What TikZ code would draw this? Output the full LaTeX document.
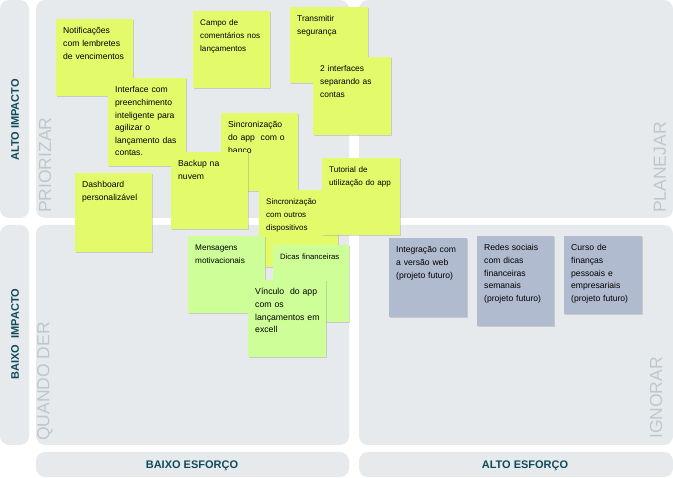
\documentclass[tikz,border=0pt]{standalone}
\usepackage{fontspec}
\setmainfont{Liberation Sans}
\usetikzlibrary{shadows}
\definecolor{panelgray}{HTML}{E7EAEC}
\definecolor{axisteal}{HTML}{0F4A5C}
\definecolor{watermark}{HTML}{BEC7CC}
\definecolor{yellownote}{HTML}{E3FB6B}
\definecolor{greennote}{HTML}{CEFE97}
\definecolor{graynote}{HTML}{B1BBD0}

\begin{document}
\begin{tikzpicture}[x=1pt, y=-1pt,
    panel/.style={fill=panelgray, rounded corners=9pt},
    axislabel/.style={text=axisteal, inner sep=0pt, font=\fontsize{11}{13}\bfseries},
    quadlabel/.style={text=watermark, inner sep=0pt, rotate=90, anchor=west, font=\fontsize{17.5}{20}\selectfont},
    note/.style={anchor=north west, inner sep=0pt, drop shadow={shadow xshift=.4pt, shadow yshift=-1.3pt, opacity=.3}},
    notetext/.style={anchor=base west, inner sep=0pt, text width=74pt, align=left}]
      \useasboundingbox[fill=white] (0,0) rectangle (673,478);
      \fill[panel] (0,0) rectangle (29,218);
      \fill[panel] (0,225) rectangle (29,445);
      \foreach \x/\X in {36/349, 359/673}{
        \foreach \y/\Y in {0/218, 225/445, 452/477}{
          \fill[panel] (\x,\y) rectangle (\X,\Y);
        }
      }
      \node[axislabel, rotate=90] (altoimpacto) at (15,120) {ALTO IMPACTO};
      \node[axislabel, rotate=90] (baixoimpacto) at (15,334) {BAIXO~ IMPACTO};
      \node[axislabel] (baixoesforco) at (192,466) {BAIXO ESFORÇO};
      \node[axislabel] (altoesforco) at (525,466) {ALTO ESFORÇO};
      \node[quadlabel] (priorizar) at (45,213) {PRIORIZAR};
      \node[quadlabel] (quandoder) at (45,441) {QUANDO DER};
      \node[quadlabel] (planejar) at (660,213) {PLANEJAR};
      \node[quadlabel] (ignorar) at (656,439) {IGNORAR};
      \foreach \n/\x/\y/\w/\h/\c/\f/\t in {
        notif/56/19/77/77/yellownote/8.6/{Notificações\\com lembretes\\de vencimentos},
        campo/193/11/77/77/yellownote/8.1/{Campo de\\comentários nos\\lançamentos},
        transmitir/290/7/78/76/yellownote/8.4/{Transmitir\\segurança},
        interfaces/313/57/78/78/yellownote/8.4/{2 interfaces\\separando as\\contas},
        interface/108/78/78/88/yellownote/8.6/{Interface com\\preenchimento\\inteligente para\\agilizar o\\lançamento das\\contas.},
        sincapp/221/113/77/78/yellownote/8.6/{Sincronização\\do app~ com o\\banco},
        backup/171/152/77/77/yellownote/8.6/{Backup na\\nuvem},
        dashboard/75/173/77/79/yellownote/8.6/{Dashboard\\personalizável},
        sincdisp/259/190/79/77/yellownote/8/{Sincronização\\com outros\\dispositivos},
        tutorial/322/158/78/77/yellownote/8.1/{Tutorial de\\utilização do app},
        mensagens/188/236/77/77/greennote/8.2/{Mensagens\\motivacionais},
        dicas/273/245/76/77/greennote/7.7/{Dicas financeiras},
        vinculo/248/280/78/77/greennote/8.7/{Vínculo~ do app\\com os\\lançamentos em\\excell},
        integracao/389/238/78/79/graynote/8.6/{Integração com\\a versão web\\(projeto futuro)},
        redes/477/236/77/90/graynote/8.6/{Redes sociais\\com dicas\\financeiras\\semanais\\(projeto futuro)},
        curso/564/236/78/78/graynote/8.6/{Curso de\\finanças\\pessoais e\\empresariais\\(projeto futuro)}}{
        \node[note, fill=\c, minimum width=\w pt, minimum height=\h pt] (\n) at (\x,\y) {};
        \node[notetext, font=\fontsize{\f}{12.6}\selectfont] (\n-text) at ([xshift=7pt, yshift=-15pt]\n.north west) {\t};
      }
    \end{tikzpicture}
\end{document}
